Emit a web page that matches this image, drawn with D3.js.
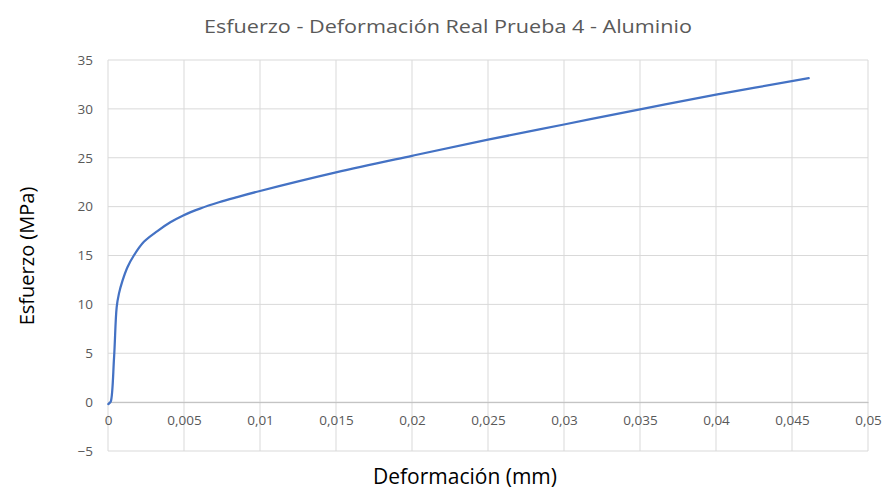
<!DOCTYPE html>
<html>
<head>
<meta charset="utf-8">
<script src="https://d3js.org/d3.v7.min.js"></script>
<style>
  body { margin: 0; background: #fff; }
  svg { display: block; }
  .grid line { stroke: #d9d9d9; stroke-width: 1; }
  .tick text { fill: #595959; font-family: "Open Sans", sans-serif; font-size: 13.5px; }
</style>
</head>
<body>
<svg id="chart" width="885" height="489"></svg>
<script>
  // strain (mm) vs true stress (MPa)
  const strain = [0.00002, 0.00009, 0.00018, 0.0004, 0.00057, 0.00072, 0.00095, 0.00128, 0.0017,
                  0.00236, 0.00325, 0.0041, 0.00495, 0.00605, 0.0073, 0.0085, 0.01, 0.015, 0.02,
                  0.025, 0.03, 0.035, 0.04, 0.0461];
  const stress = [-0.2, -0.1, 0.05, 4.6, 9.7, 11.1, 12.4, 13.8, 15.0,
                  16.4, 17.5, 18.4, 19.1, 19.8, 20.45, 20.98, 21.6, 23.5, 25.2,
                  26.85, 28.4, 29.95, 31.45, 33.15];
  const xTicks = [0, 0.005, 0.01, 0.015, 0.02, 0.025, 0.03, 0.035, 0.04, 0.045, 0.05];
  const yTicks = [-5, 0, 5, 10, 15, 20, 25, 30, 35];

  const svg = d3.select("#chart");
  const margin = { left: 108, right: 868, top: 60, bottom: 451 };

  const loc = d3.formatLocale({ decimal: ",", thousands: ".", grouping: [3], currency: ["", "€"] });
  const fmt = d => loc.format("~g")(d);

  const x = d3.scaleLinear().domain([0, 0.05]).range([margin.left, margin.right]);
  const y = d3.scaleLinear().domain([-5, 35]).range([margin.bottom, margin.top]);

  // gridlines
  const grid = svg.append("g").attr("class", "grid");
  grid.selectAll(".v").data(xTicks).join("line")
    .attr("x1", d => x(d)).attr("x2", d => x(d))
    .attr("y1", margin.top).attr("y2", margin.bottom);
  grid.selectAll(".h").data(yTicks).join("line")
    .attr("x1", margin.left).attr("x2", margin.right)
    .attr("y1", d => y(d)).attr("y2", d => y(d));

  // x axis crosses at y = 0
  svg.append("g")
    .attr("transform", `translate(0,${y(0)})`)
    .call(d3.axisBottom(x).tickValues(xTicks).tickFormat(fmt).tickSize(0).tickPadding(13))
    .call(g => g.select(".domain").attr("stroke", "#bfbfbf"));

  svg.append("g")
    .attr("transform", `translate(${margin.left},0)`)
    .call(d3.axisLeft(y).tickValues(yTicks).tickFormat(fmt).tickSize(0).tickPadding(15))
    .call(g => g.select(".domain").remove());

  const pts = strain.map((s, i) => [s, stress[i]]);
  svg.append("path")
    .datum(pts)
    .attr("fill", "none")
    .attr("stroke", "#4472c4")
    .attr("stroke-width", 2.25)
    .attr("stroke-linejoin", "round")
    .attr("stroke-linecap", "round")
    .attr("d", d3.line().x(d => x(d[0])).y(d => y(d[1])).curve(d3.curveCatmullRom.alpha(0.5)));

  svg.append("text")
    .attr("x", 448).attr("y", 33)
    .attr("text-anchor", "middle")
    .attr("fill", "#595959")
    .attr("textLength", 488)
    .attr("lengthAdjust", "spacingAndGlyphs")
    .style("font-family", "'Open Sans', sans-serif")
    .style("font-size", "19px")
    .text("Esfuerzo - Deformación Real Prueba 4 - Aluminio");

  svg.append("text")
    .attr("transform", "translate(34,256) rotate(-90)")
    .attr("text-anchor", "middle")
    .attr("fill", "#000")
    .style("font-family", "'Open Sans', sans-serif")
    .style("font-size", "20px")
    .text("Esfuerzo (MPa)");

  svg.append("text")
    .attr("x", 465).attr("y", 484)
    .attr("text-anchor", "middle")
    .attr("fill", "#000")
    .style("font-family", "'Open Sans', sans-serif")
    .style("font-size", "21px")
    .text("Deformación (mm)");
</script>
</body>
</html>
